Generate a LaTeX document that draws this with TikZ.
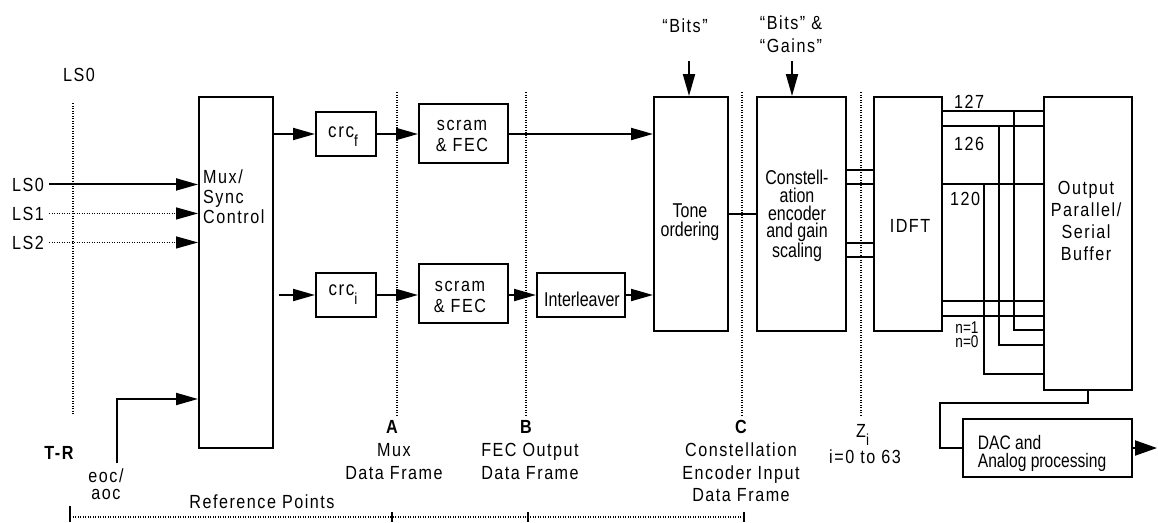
\documentclass[tikz,border=0pt]{standalone}
\usepackage{fontspec}
\setmainfont{Liberation Sans}[FakeStretch=0.85,LetterSpace=8]
\newfontfamily\narrowf{Liberation Sans}[FakeStretch=0.8]
\usetikzlibrary{arrows.meta}
\begin{document}
\begin{tikzpicture}[x=1pt,y=-1pt,
  box/.style={draw, line width=2pt, inner sep=0pt},
  arr/.style={line width=2pt,-{Triangle[length=22pt,width=12pt]}},
  darr/.style={line width=1.3pt, dash pattern=on 1pt off 1.5pt,-{Triangle[length=22pt,width=12pt]}},
  ln/.style={line width=2pt},
  wire/.style={line width=2pt},
  dotl/.style={line width=1.3pt, dash pattern=on 1pt off 1.5pt},
  lab/.style={inner sep=0pt, font=\fontsize{19}{20}\selectfont},
  nlab/.style={inner sep=0pt, font=\narrowf\fontsize{20}{19}\selectfont},
  blab/.style={inner sep=0pt, font=\bfseries\fontsize{19}{20}\selectfont},
]
\useasboundingbox (0,0) rectangle (1158,522);

% dotted reference lines
\draw[dotl] (73,103) -- (73,414);
\draw[dotl] (397,92) -- (397,415);
\draw[dotl] (526,92) -- (526,415);
\draw[dotl] (742,92) -- (742,415);
\draw[dotl] (861,92) -- (861,415);

% boxes
\node[box, minimum width=74pt, minimum height=351pt] (mux) at (236,272.5) {};
\node[box, minimum width=60pt, minimum height=44pt] (crcf) at (346,134) {};
\node[box, minimum width=89pt, minimum height=59pt] (scf) at (463.5,133) {};
\node[box, minimum width=60pt, minimum height=44pt] (crci) at (346,295) {};
\node[box, minimum width=89pt, minimum height=59pt] (sci) at (463.5,293.5) {};
\node[box, minimum width=88pt, minimum height=44pt] (intl) at (581,295) {};
\node[box, minimum width=74pt, minimum height=234pt] (tone) at (691,214) {};
\node[box, minimum width=89pt, minimum height=234pt] (const) at (801.5,214) {};
\node[box, minimum width=68pt, minimum height=234pt] (idft) at (908,214) {};
\node[box, minimum width=88pt, minimum height=293pt] (out) at (1088,243.5) {};
\node[box, minimum width=169pt, minimum height=58pt] (dac) at (1047.5,448) {};

% box texts
\node[lab, anchor=west, align=left] (muxt) at (203,197) {Mux/\\Sync\\Control};
\node[lab, anchor=base, font=\fontsize{20}{20}\selectfont] (crcft) at (343,137) {crc\raisebox{-9pt}{\fontsize{16}{16}\selectfont f}};
\node[lab, anchor=base, font=\fontsize{20}{20}\selectfont] (crcit) at (343,295) {crc\raisebox{-9pt}{\fontsize{16}{16}\selectfont i}};
\node[lab, align=center, font=\fontsize{19}{21}\selectfont] (scft) at (462,135.5) {scram\\\& FEC};
\node[lab, align=center, font=\fontsize{19}{21}\selectfont] (scit) at (460,297) {scram\\\& FEC};
\node[nlab, anchor=base] (intlt) at (582,306) {Interleaver};
\node[nlab, align=center] (tonet) at (690,222.6) {Tone\\ordering};
\node[nlab, align=center, font=\narrowf\fontsize{20}{17.7}\selectfont] (constt) at (797,216) {Constell-\\ation\\encoder\\and gain\\scaling};
\node[lab, anchor=base] (idftt) at (910,232.3) {IDFT};
\node[lab, align=center, font=\fontsize{19}{22.2}\selectfont] (outt) at (1086,221) {Output\\Parallel/\\Serial\\Buffer};
\node[nlab, anchor=west, align=left, font=\narrowf\fontsize{19.5}{17.8}\selectfont] (dact) at (977.7,453.5) {DAC and\\Analog processing};

% inputs
\node[lab, anchor=base] (ls0top) at (79,81) {LS0};
\node[lab, anchor=base east] (ls0) at (44,191) {LS0};
\node[lab, anchor=base east] (ls1) at (44,220) {LS1};
\node[lab, anchor=base east] (ls2) at (44,249) {LS2};
\draw[arr] ([xshift=5pt]ls0.east) -- (ls0.east -| mux.west);
\draw[darr] ([xshift=5pt]ls1.east) -- (ls1.east -| mux.west);
\draw[darr] ([xshift=5pt]ls2.east) -- (ls2.east -| mux.west);

\node[lab, align=center, font=\fontsize{19}{17}\selectfont] (eoc) at (106,484) {eoc/\\aoc};
\coordinate (eocup) at (117,463);
\draw[arr] (eocup) -- (117,399) -- (mux.west |- 0,399);

% data path
\draw[arr] (crcf.west -| mux.east) -- (crcf.west);
\draw[arr] ([xshift=5pt]crci.west -| mux.east) -- (crci.west);
\draw[arr] (crcf.east) -- (crcf.east -| scf.west);
\draw[arr] (crci.east) -- (crci.east -| sci.west);
\draw[arr] (crcf.east -| scf.east) -- (crcf.east -| tone.west);
\draw[arr] (crci.east -| sci.east) -- (intl.west);
\draw[arr] (intl.east) -- (intl.east -| tone.west);

% bits inputs
\node[lab, anchor=base] (bits) at (685,32) {“Bits”};
\node[lab, align=center, font=\fontsize{19}{23.4}\selectfont] (bg) at (791,34) {“Bits” \&\\“Gains”};
\coordinate (bitsin) at (689,61);
\draw[arr] (bitsin) -- (bitsin |- tone.north);
\coordinate (bgin) at (792,61);
\draw[arr] (bgin) -- (bgin |- const.north);

% wires
\draw[wire] (tone.east |- 0,213.7) -- (const.west |- 0,213.7);
\foreach \yy in {170,184,242.7,256.7}
  \draw[wire] (const.east |- 0,\yy) -- (idft.west |- 0,\yy);
\foreach \yy in {111,126,184.3,301,315.7}
  \draw[wire] (idft.east |- 0,\yy) -- (out.west |- 0,\yy);
\draw[wire] (1014,111) -- (1014,330) -- (out.west |- 0,330);
\draw[wire] (999.3,126) -- (999.3,345.3) -- (out.west |- 0,345.3);
\draw[wire] (984.3,184.3) -- (984.3,374.3) -- (out.west |- 0,374.3);
\node[lab, anchor=base] (w127) at (969,108.3) {127};
\node[lab, anchor=base] (w126) at (969,150) {126};
\node[lab, anchor=base] (w120) at (965,205.7) {120};
\node[nlab, anchor=base, font=\narrowf\fontsize{17}{17}\selectfont] (wn1) at (967,333) {n=1};
\node[nlab, anchor=base, font=\narrowf\fontsize{17}{17}\selectfont] (wn0) at (967,347) {n=0};

% output to DAC
\draw[ln] (out.south -| 1087.7,0) -- (1087.7,403.3) -- (940.3,403.3) -- (940.3,448) -- (dac.west);
\coordinate (dacend) at (1157,448);
\draw[ln, -{Triangle[length=22pt,width=15pt]}] (dac.east) -- (dacend);

% bottom labels
\node[blab, anchor=base] (tr) at (59,459) {T-R};
\node[blab, anchor=base] (ptA) at (392,433) {A};
\node[blab, anchor=base] (ptB) at (526,433) {B};
\node[blab, anchor=base] (ptC) at (741,433) {C};
\node[lab, align=center, font=\fontsize{19}{23}\selectfont] (la) at (394,461.4) {Mux\\Data Frame};
\node[lab, align=center, font=\fontsize{19}{23}\selectfont] (lb) at (530,461.4) {FEC Output\\Data Frame};
\node[lab, align=center, font=\fontsize{19}{22.5}\selectfont] (lc) at (741,472.3) {Constellation\\Encoder Input\\Data Frame};
\node[lab, anchor=base west] (zi) at (856,437.3) {Z\raisebox{-8pt}{\fontsize{16}{16}\selectfont i}};
\node[lab, anchor=base] (zrange) at (865,463) {i=0 to 63};
\node[lab, anchor=base] (refp) at (262,508) {Reference Points};

% reference line
\draw[dotl] (70,517) -- (744,517);
\draw[ln] (70,506) -- (70,522);
\draw[ln] (392,512) -- (392,522);
\draw[ln] (528,512) -- (528,522);
\draw[ln] (744,512) -- (744,522);
\end{tikzpicture}
\end{document}
